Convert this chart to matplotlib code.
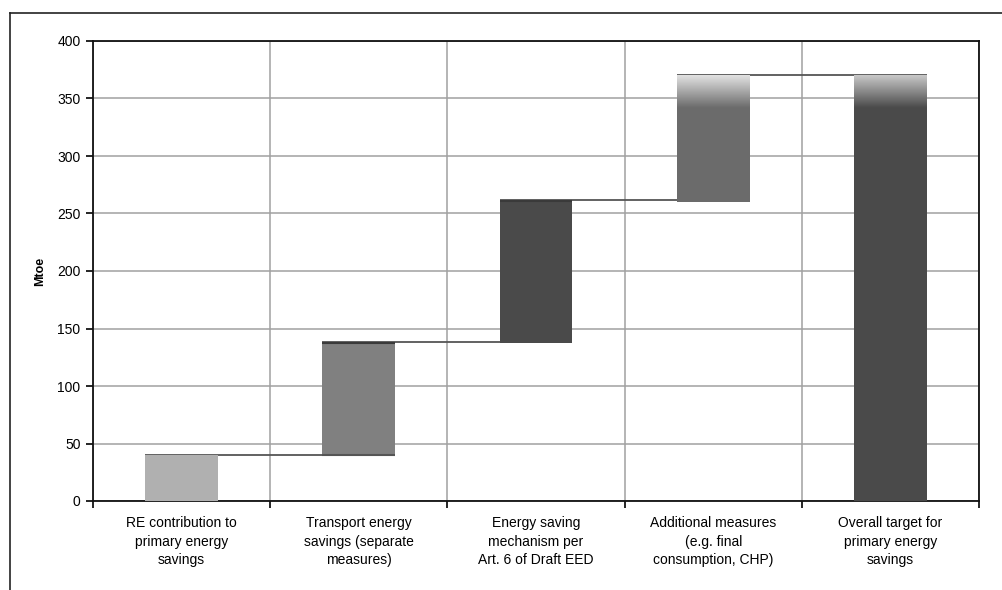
import numpy as np
import matplotlib
matplotlib.use('Agg')
import matplotlib.pyplot as plt
from matplotlib.lines import Line2D
from matplotlib.colors import LinearSegmentedColormap

# ==========================================
# DATA (Mtoe)
# ==========================================
categories = ['RE contribution to\nprimary energy\nsavings',
              'Transport energy\nsavings (separate\nmeasures)',
              'Energy saving\nmechanism per\nArt. 6 of Draft EED',
              'Additional measures\n(e.g. final\nconsumption, CHP)',
              'Overall target for\nprimary energy\nsavings']
bar_bottoms = [0, 39, 137, 260, 0]
bar_tops = [40, 138, 262, 370, 370]
bar_colors = ['#b0b0b0', '#808080', '#4a4a4a', '#6b6b6b', '#4a4a4a']
gradient_top = [None, None, None, '#e2e2e2', '#c8c8c8']
y_ticks = list(range(0, 401, 50))
# ==========================================

plt.rcParams['font.family'] = ['Liberation Sans', 'DejaVu Sans']

fig = plt.figure(figsize=(10.02, 5.9), dpi=100)
ax = fig.add_axes([93 / 1002, 1 - 501 / 590, (979 - 93) / 1002, (501 - 41) / 590])

x = np.arange(len(categories))
width = 0.41

# connector lines (drawn under the bars)
for i in range(len(categories) - 1):
    ax.plot([x[i] - width / 2, x[i + 1] + width / 2], [bar_tops[i], bar_tops[i]],
            color='#555555', lw=1.3, zorder=2, solid_capstyle='butt')

for i in range(len(categories)):
    h = bar_tops[i] - bar_bottoms[i]
    ax.bar(x[i], h, width=width, bottom=bar_bottoms[i], color=bar_colors[i],
           edgecolor='none', zorder=3)
    if gradient_top[i] is not None:
        cmap = LinearSegmentedColormap.from_list('g', [bar_colors[i], gradient_top[i]])
        g_h = 28
        grad = np.linspace(0, 1, 100).reshape(-1, 1)
        ax.imshow(grad, cmap=cmap, aspect='auto', origin='lower', zorder=4,
                  extent=[x[i] - width / 2, x[i] + width / 2,
                          bar_tops[i] - g_h, bar_tops[i]], interpolation='bilinear')
    elif i in (1, 2):
        # darker caps
        ax.plot([x[i] - width / 2, x[i] + width / 2], [bar_tops[i] - 1, bar_tops[i] - 1],
                color='#3a3a3a', lw=1.5, zorder=4, solid_capstyle='butt')
        if i == 1:
            ax.plot([x[i] - width / 2, x[i] + width / 2], [bar_bottoms[i] + 1, bar_bottoms[i] + 1],
                    color='#555555', lw=1.5, zorder=4, solid_capstyle='butt')

ax.set_xlim(-0.5, len(categories) - 0.5)
ax.set_ylim(0, 400)
ax.set_yticks(y_ticks)
ax.set_yticklabels([str(v) for v in y_ticks], fontsize=10)

ax.set_xticks(np.arange(-0.5, len(categories), 1.0))
ax.set_xticklabels([])
ax.set_xticks(x, minor=True)
ax.set_xticklabels(categories, minor=True, fontsize=10, linespacing=1.4)
ax.tick_params(axis='x', which='minor', length=0, pad=11)
ax.tick_params(axis='x', which='major', length=5, width=1.2, direction='out')
ax.tick_params(axis='y', length=5, width=1.2, direction='out', pad=4)

ax.grid(True, which='major', color='#a0a0a0', lw=1.1, zorder=0)
ax.set_axisbelow(True)
for s in ax.spines.values():
    s.set_linewidth(1.3)
    s.set_color('#111111')

ax.set_ylabel('Mtoe', fontsize=9, fontweight='bold', labelpad=8)

# outer frame (cut off at right and bottom in the reference)
fig.add_artist(Line2D([10 / 1002, 1.0], [1 - 13 / 590, 1 - 13 / 590], color='#222222', lw=1.2))
fig.add_artist(Line2D([10 / 1002, 10 / 1002], [0.0, 1 - 13 / 590], color='#222222', lw=1.2))

fig.savefig('out.png', dpi=100)
